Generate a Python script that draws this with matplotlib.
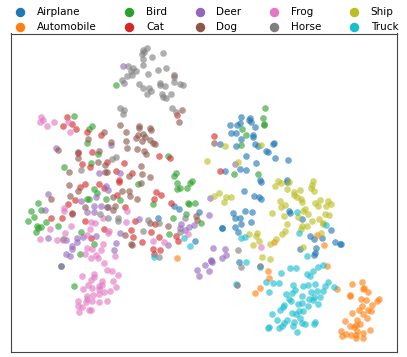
import matplotlib
matplotlib.use("Agg")
import matplotlib.pyplot as plt
import numpy as np

# embedding positions (y runs downwards)
airplane = [(241,117),(250,118),(249,120),(251,122),(230,125),(237,125),(240,123),(255,127),(231,133),(236,133),
    (253,135),(253,137),(241,139),(220,144),(236,146),(255,144),(258,146),(274,143),(273,144),(266,151),(268,152),
    (246,156),(275,158),(288,160),(256,163),(240,169),(246,170),(225,171),(260,180),(287,180),
    (158,218),(174,206),(179,209),(199,212),(195,241),
    (287,182),(261,182),(244,191),(254,196),(259,197),(261,199),(233,213),(235,218),(240,218),(245,211),(252,212),
    (241,224),(251,222),(235,227),(222,228),(222,228),(238,232),(289,211),(290,213),(302,219),(331,230),(310,236),
    (314,239),(322,238),(335,242),(340,244),(341,244),(300,249),(316,248),(315,253),(314,255),(239,262)]
automobile = [(177,258),(317,235),(324,245),(274,242),(327,266),(268,271),(269,278),(260,288),(255,293),(337,289),
    (352,284),(362,282),(364,288),(363,289),(368,292),(350,295),(350,296),(361,299),(366,300),(379,299),(377,301),
    (372,305),(368,310),(371,311),(359,310),(362,306),(352,313),(363,314),(367,318),(357,320),(345,321),(360,324),
    (356,325),(350,326),(354,327),(370,330),(357,331),(341,331),(346,334),(342,336),(351,335),(363,333),(356,335),
    (356,338),(363,338)]
bird = [(74,116),(92,126),(89,129),(87,143),(98,154),(64,167),(91,163),(168,156),(116,85),(176,173),(174,176),
    (265,108),(263,118),(264,125),(264,124),(242,129),(246,135),(241,145),(234,174),(258,174),
    (38,203),(31,211),(41,210),(34,217),(28,221),(37,226),(41,227),(38,228),(36,232),(46,222),(58,226),(94,189),
    (97,193),(87,199),(89,199),(106,199),(120,200),(138,184),(153,204),(177,183),(177,189),(180,188),(187,188),
    (192,181),(190,183),(188,203),(189,204),(195,203),(186,214),(173,218),(201,223),(169,234),(81,232),(63,239),
    (94,244),(80,254),(61,266),(74,286)]
cat = [(67,117),(63,126),(72,124),(76,129),(87,132),(101,135),(78,153),(92,152),(107,162),(124,163),(82,164),
    (90,167),(116,171),(132,173),(159,156),(170,158),(177,115),(119,180),(214,136),(220,171),
    (80,187),(85,184),(99,184),(119,182),(104,188),(117,195),(75,200),(68,204),(125,207),(72,213),(62,218),(51,218),
    (85,221),(91,238),(104,229),(131,230),(135,221),(133,237),(142,242),(151,232),(156,192),(161,195),(154,199),
    (171,203),(155,224),(159,237),(176,236),(178,241),(153,249),(160,250),(154,254),(237,285),(260,266)]
deer = [(123,66),(56,148),(111,145),(99,173),(120,173),(235,164),
    (48,194),(45,210),(81,201),(96,197),(106,186),(108,190),(94,206),(101,206),(87,212),(94,212),(108,207),(139,219),
    (181,224),(180,228),(185,230),(189,227),(194,225),(48,238),(66,240),(77,238),(83,237),(77,242),(96,236),(72,246),
    (72,249),(116,243),(114,250),(66,254),(70,256),(61,266),(168,245),(197,270),(199,276),(205,265),(120,233),
    (210,198),(209,215),(213,248),(225,249),(226,255),(222,258),(211,260),(212,262),(211,261),(209,271)]
dog = [(174,75),(182,110),(179,122),(120,125),(139,126),(139,128),(150,128),(151,130),(126,132),(104,132),(88,139),
    (138,135),(136,138),(143,134),(145,137),(142,141),(150,140),(153,143),(155,144),(126,141),(111,142),(127,148),
    (137,149),(144,151),(146,154),(58,150),(78,152),(78,158),(99,151),(98,162),(105,165),(69,172),(105,172),(107,172),
    (141,166),(142,174),(150,177),(129,176),(214,143),
    (69,185),(78,191),(70,196),(51,199),(122,191),(129,191),(130,196),(113,197),(137,199),(85,207),(107,207),(113,210),
    (115,206),(72,214),(141,183),(125,235),(131,244),(132,245),(168,226),(150,223),(196,216),(197,220)]
frog = [(41,117),(43,120),(40,122),(54,122),(47,126),(68,122),(70,132),
    (64,208),(64,211),(127,211),(71,226),(50,229),(91,222),(95,223),(126,222),(103,218),(90,229),(65,233),(40,239),
    (57,240),(63,240),(109,231),(108,233),(87,235),(103,244),(87,248),(92,249),(101,250),(85,254),(96,255),(91,258),
    (98,258),(115,256),(104,263),(107,270),(112,271),(118,275),(82,276),(94,274),(94,277),(91,280),(102,281),(113,281),
    (88,285),(99,286),(102,285),(92,288),(83,289),(99,289),(116,287),(110,291),(104,292),(99,294),(93,295),(87,296),
    (87,299),(78,301),(86,302),(92,301),(99,302),(107,301),(78,306),(82,307),(89,310),(91,310),(79,312),(153,241),
    (164,242),(188,234),(261,247)]
horse = [(143,50),(147,48),(144,52),(142,54),(163,53),(152,57),(143,59),(143,65),(128,66),(133,68),(136,71),(131,71),
    (132,75),(127,76),(122,80),(124,83),(148,74),(158,70),(166,68),(174,77),(174,82),(180,84),(183,85),(160,83),(160,85),
    (165,86),(139,84),(143,88),(149,88),(151,91),(147,94),(162,94),(163,97),(166,98),(171,94),(120,108),(124,110),
    (123,114),(172,108),(176,112),(116,157),(112,159),(81,170),
    (100,214),(108,218),(118,218),(118,221),(148,220),(159,223),(143,231),(180,232),(185,218),(159,257),(238,250),(241,267)]
ship = [(225,146),(261,145),(207,161),(238,162),
    (278,181),(281,183),(275,186),(287,189),(289,182),(313,181),(312,185),(311,188),(314,191),(300,190),(294,192),
    (294,195),(297,197),(301,199),(302,202),(280,201),(285,205),(281,207),(272,213),(284,216),(298,217),(305,209),
    (303,211),(308,214),(315,203),(318,206),(320,200),(328,201),(331,204),(326,206),(325,214),(329,215),(319,219),
    (312,221),(323,223),(323,224),(287,224),(302,226),(301,229),(307,226),(285,231),(282,234),(321,233),(276,239),
    (270,244),(253,245),(259,241),(256,236),(257,233),(249,234),(303,247),(262,257),(270,259),(214,196),(219,193),
    (226,197),(231,197),(224,202)]
truck = [(184,238),(190,246),(154,257),(297,212),(326,225),(299,233),(241,238),(245,237),(307,256),(246,262),(260,267),
    (281,273),(290,268),(296,268),(323,265),(318,267),(313,271),(307,274),(310,276),(266,282),(273,283),(279,283),
    (269,292),(293,285),(295,290),(303,286),(308,285),(315,284),(328,282),(325,286),(334,287),(317,291),(323,291),
    (311,292),(292,293),(286,294),(302,296),(314,297),(320,297),(289,299),(291,301),(309,299),(313,300),(318,304),
    (298,304),(302,303),(308,306),(284,305),(283,307),(280,310),(299,311),(303,311),(292,313),(296,314),(272,314),
    (300,318),(277,320),(287,320),(284,323),(294,322),(302,323),(305,324),(315,322),(314,324),(282,326),(279,328),
    (293,326),(269,327),(268,328),(297,332),(236,284)]

class_names = ["Airplane", "Automobile", "Bird", "Cat", "Deer", "Dog", "Frog", "Horse", "Ship", "Truck"]
class_points = [airplane, automobile, bird, cat, deer, dog, frog, horse, ship, truck]

fig = plt.figure(figsize=(4.07, 3.57), dpi=100)
ax = fig.add_axes([10.5 / 407, (357 - 352) / 357, 386 / 407, 318.5 / 357])

for name, pts in zip(class_names, class_points):
    pts = np.array(pts)
    ax.scatter(pts[:, 0], pts[:, 1], s=23, alpha=0.62, linewidths=0, label=name)

ax.set_xlim(10.5, 396.5)
ax.set_ylim(352, 33.5)
ax.set_xticks([])
ax.set_yticks([])
for spine in ax.spines.values():
    spine.set_color("#444444")

leg = ax.legend(loc="lower center", bbox_to_anchor=(0.5015, 0.982), ncol=5, frameon=False, fontsize=7.5,
                markerscale=1.42, handletextpad=0.59, columnspacing=2.16, labelspacing=0.52, borderpad=0.2)
for h in leg.legend_handles:
    h.set_alpha(1)

plt.savefig("out.png", dpi=100)
plt.close()
